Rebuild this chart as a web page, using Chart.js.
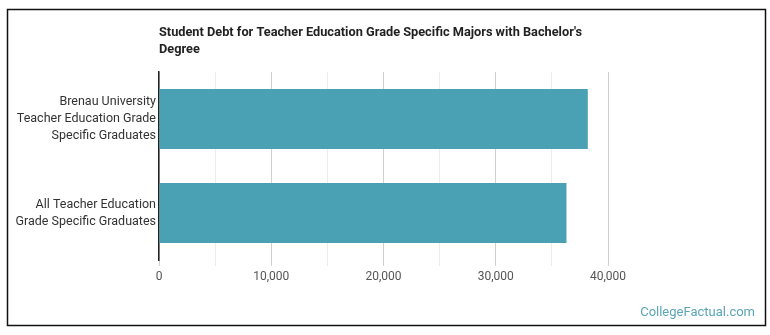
<!DOCTYPE html>
<html>
<head>
<meta charset="utf-8">
<script src="https://cdn.jsdelivr.net/npm/chart.js@4/dist/chart.umd.min.js"></script>
<style>
html,body{margin:0;padding:0;background:#fff;}
#wrap{position:relative;width:770px;height:335px;}
</style>
</head>
<body>
<div id="wrap"><canvas id="c" width="770" height="335"></canvas></div>
<script>
const categories = [
  ["Brenau University", "Teacher Education Grade", "Specific Graduates"],
  ["All Teacher Education", "Grade Specific Graduates"]
];
const debtValues = [38200, 36300];
const xTickLabels = ["0", "10,000", "20,000", "30,000", "40,000"];
const titleLines = ["Student Debt for Teacher Education Grade Specific Majors with Bachelor's", "Degree"];
const watermark = "CollegeFactual.com";

const decor = {
  id: 'decor',
  afterDraw(chart) {
    const ctx = chart.ctx;
    const ca = chart.chartArea;
    ctx.save();
    ctx.strokeStyle = '#111';
    ctx.lineWidth = 1.5;
    ctx.strokeRect(7.5, 9.5, 758, 316);
    ctx.fillStyle = '#222';
    ctx.font = 'bold 12.75px Roboto';
    ctx.textAlign = 'left';
    ctx.textBaseline = 'middle';
    titleLines.forEach((t, i) => ctx.fillText(t, ca.left, 33 + i * 17));
    ctx.fillStyle = '#5aa5b7';
    ctx.font = '13px Roboto';
    ctx.textAlign = 'right';
    ctx.fillText(watermark, 755, 313);
    ctx.restore();
  }
};

new Chart(document.getElementById('c'), {
  type: 'bar',
  data: {
    labels: categories,
    datasets: [{
      data: debtValues,
      backgroundColor: '#4aa1b3',
      borderWidth: 0,
      categoryPercentage: 1,
      barPercentage: 0.64
    }]
  },
  options: {
    indexAxis: 'y',
    responsive: false,
    animation: false,
    layout: { padding: { top: 72, right: 162, left: 0, bottom: 0 } },
    plugins: { legend: { display: false }, tooltip: { enabled: false }, title: { display: false } },
    scales: {
      x: {
        min: 0, max: 40000,
        afterFit: s => { s.height = 75; },
        border: { display: false },
        grid: {
          color: c => (c.tick && c.tick.value % 10000 === 0) ? '#d0d0d0' : '#ececec',
          drawTicks: true, tickLength: 6
        },
        ticks: {
          stepSize: 5000,
          autoSkip: false,
          maxRotation: 0,
          padding: 4,
          color: '#555',
          font: { family: 'Roboto', size: 12 },
          callback: v => v % 10000 === 0 ? xTickLabels[v / 10000] : ''
        }
      },
      y: {
        afterFit: s => { s.width = 159; },
        grid: { display: false, drawTicks: false, tickLength: 0 },
        border: { display: true, color: '#222', width: 1.5 },
        ticks: {
          color: '#333',
          padding: 3,
          font: { family: 'Roboto', size: 12.5, lineHeight: 1.36 }
        }
      }
    }
  },
  plugins: [decor]
});
</script>
</body>
</html>
